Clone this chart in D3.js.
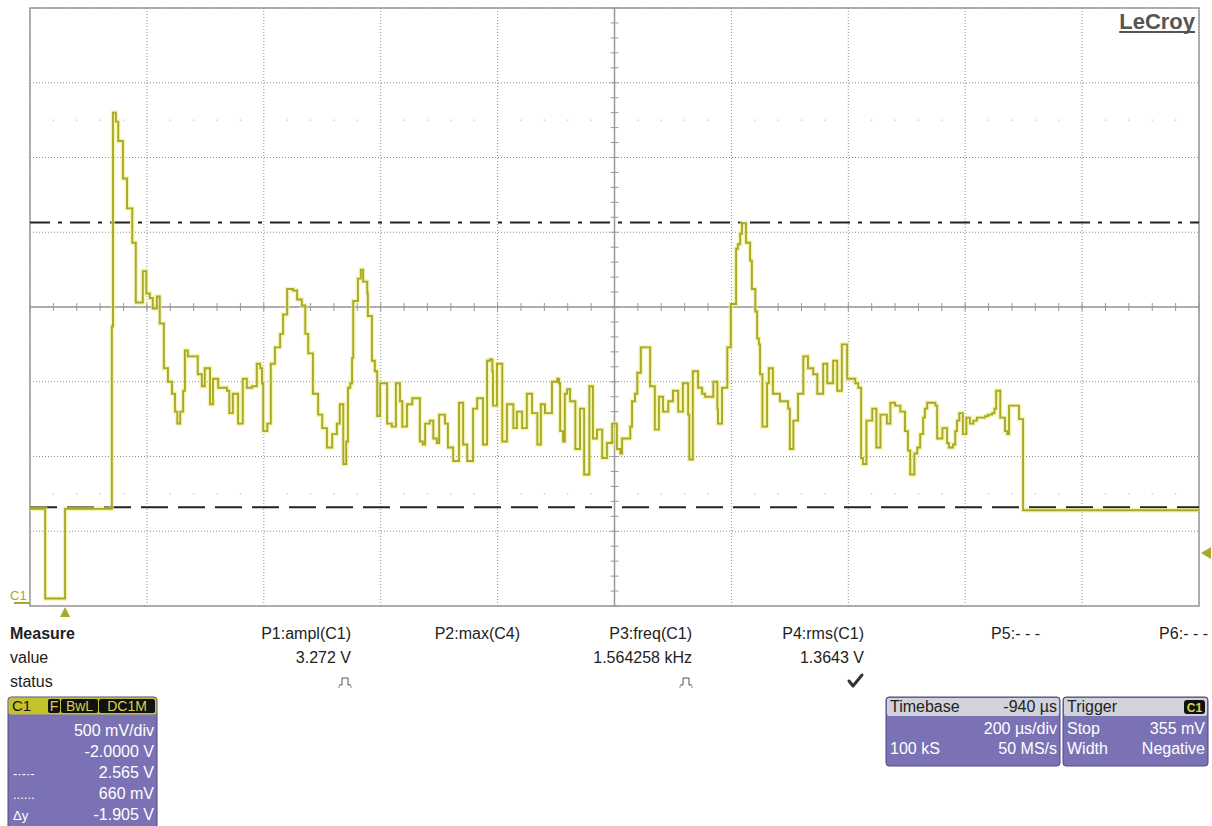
<!DOCTYPE html>
<html>
<head>
<meta charset="utf-8">
<script src="https://cdn.jsdelivr.net/npm/d3@7"></script>
<style>
  body { margin: 0; background: #fff; }
  text { font-family: "Liberation Sans", Arial, sans-serif; }
</style>
</head>
<body>
<div id="scope"></div>
<script>
// time in microseconds relative to trigger, voltage in volts (C1)
const traceT = [-60,-34,0,80,82,87,91,99,106,115,121,133,139,145,150,157,162,169,176,183,188,192,197,202,205,210,227,234,239,248,253,262,277,281,287,296,304,311,320,328,334,337,339,346,352,359,368,373,380,390,397,405,411,416,424,433,440,448,457,465,470,476,481,484,488,491,493,501,506,510,517,518,525,530,534,539,551,559,566,573,577,585,594,607,612,616,624,630,636,640,650,655,664,674,681,688,698,705,715,722,727,731,732,739,748,756,767,773,782,790,799,808,814,821,833,842,845,847,852,855,859,864,873,881,888,897,903,910,919,927,936,944,950,953,967,970,975,979,985,1001,1009,1016,1023,1032,1040,1049,1057,1066,1068,1074,1083,1090,1095,1109,1116,1117,1124,1133,1139,1148,1151,1155,1158,1165,1172,1175,1181,1184,1187,1189,1193,1201,1204,1211,1223,1237,1240,1246,1254,1263,1271,1280,1287,1297,1304,1314,1321,1329,1338,1352,1357,1362,1365,1371,1381,1388,1395,1406,1412,1420,1429,1437,1442,1446,1453,1458,1463,1468,1471,1475,1489,1492,1501,1509,1512,1519,1523,1526,1530,1536,1542,1548,1554,1560,1574,1579,1586,1590,1593,1600,1608,1612,1615,1632,1639,1940];
const traceV = [0.65,0.05,0.65,1.87,3.30,3.24,3.11,2.86,2.66,2.43,2.03,2.24,2.09,2.06,1.99,2.07,1.89,1.59,1.50,1.42,1.30,1.22,1.30,1.44,1.71,1.67,1.55,1.47,1.59,1.35,1.52,1.46,1.44,1.29,1.42,1.22,1.52,1.46,1.47,1.62,1.59,1.49,1.17,1.22,1.62,1.73,1.82,1.95,2.12,2.11,2.05,2.01,1.82,1.69,1.42,1.28,1.19,1.06,1.15,1.22,1.35,0.95,1.10,1.46,1.49,1.66,2.04,2.19,2.25,2.17,2.09,1.94,1.64,1.57,1.27,1.49,1.22,1.20,1.49,1.37,1.20,1.35,1.39,1.10,1.08,1.22,1.24,1.12,1.09,1.28,1.22,1.06,0.97,1.36,1.08,0.97,1.32,1.39,1.08,1.64,1.65,1.57,1.34,1.62,1.10,1.35,1.19,1.30,1.19,1.42,1.29,1.08,1.35,1.29,1.50,1.52,1.49,1.17,1.10,1.42,1.45,1.37,1.05,1.32,0.88,1.47,1.12,1.18,0.99,1.09,1.22,1.05,1.02,1.12,1.20,1.37,1.42,1.56,1.73,1.47,1.18,1.40,1.30,1.37,1.44,1.30,1.49,1.28,0.98,1.57,1.46,1.42,1.40,1.50,1.32,1.22,1.46,1.73,2.02,2.39,2.42,2.49,2.56,2.43,2.31,2.12,1.97,1.79,1.75,1.55,1.20,1.49,1.59,1.42,1.37,1.32,1.05,1.24,1.42,1.67,1.59,1.55,1.42,1.62,1.49,1.64,1.44,1.75,1.52,1.49,1.46,0.99,0.95,1.24,1.32,1.06,1.28,1.22,1.36,1.34,1.30,1.17,1.04,0.88,1.02,1.06,1.15,1.26,1.32,1.36,1.34,1.12,1.19,1.09,1.06,1.08,1.17,1.24,1.29,1.15,1.26,1.22,1.24,1.26,1.27,1.28,1.29,1.32,1.44,1.26,1.17,1.15,1.34,1.25,0.64,0.64];

const cursorDashDot = 2.565;   // V
const cursorDashed = 0.660;    // V
const triggerLevel = 0.355;    // V

const measureNames = ["P1:ampl(C1)", "P2:max(C4)", "P3:freq(C1)", "P4:rms(C1)", "P5:- - -", "P6:- - -"];
const measureValues = ["3.272 V", "", "1.564258 kHz", "1.3643 V", "", ""];
const measureStatus = ["pulse", "", "pulse", "check", "", ""];

const chanBadges = ["F", "BwL", "DC1M"];
const chanLeft = ["", "", "-·-·-", "......", "Δy"];
const chanRight = ["500 mV/div", "-2.0000 V", "2.565 V", "660 mV", "-1.905 V"];

const tbHead = ["Timebase", "-940 µs"];
const tbRows = [["", "200 µs/div"], ["100 kS", "50 MS/s"]];
const trHead = ["Trigger", "C1"];
const trRows = [["Stop", "355 mV"], ["Width", "Negative"]];

const W = 1212, H = 826;
const pL = 30, pR = 1199, pT = 8, pB = 606;
const traceCol = "#a9a828", purple = "#7a72b4", purpleEdge = "#4f4786";

const svg = d3.select("#scope").append("svg").attr("width", W).attr("height", H);

const x = d3.scaleLinear().domain([-60, 1940]).range([pL, pR]);
const y = d3.scaleLinear().domain([0, 4]).range([pB, pT]);

const xDiv = d3.range(-60, 1941, 200);
const yDiv = d3.range(0, 4.01, 0.5);

// dotted grid
svg.append("g").selectAll("line").data(xDiv).enter().append("line")
  .attr("x1", d => x(d)).attr("x2", d => x(d)).attr("y1", pT).attr("y2", pB)
  .attr("stroke", "#8f8f8f").attr("stroke-dasharray", "1,2");
svg.append("g").selectAll("line").data(yDiv).enter().append("line")
  .attr("x1", pL).attr("x2", pR).attr("y1", d => y(d)).attr("y2", d => y(d))
  .attr("stroke", "#8f8f8f").attr("stroke-dasharray", "1,2");

// faint sub-grid dots
const xMinor = d3.range(-60, 1941, 40);
[3.25, 0.75].forEach(v => {
  svg.append("g").selectAll("circle").data(xMinor).enter().append("circle")
    .attr("cx", d => x(d)).attr("cy", y(v)).attr("r", 0.8).attr("fill", "#cfcfcf");
});

// frame
svg.append("rect").attr("x", pL).attr("y", pT).attr("width", pR - pL).attr("height", pB - pT)
  .attr("fill", "none").attr("stroke", "#999").attr("stroke-width", 1.5);

// centre cross with minor ticks
const xc = x(940), yc = y(2);
svg.append("line").attr("x1", pL).attr("x2", pR).attr("y1", yc).attr("y2", yc).attr("stroke", "#999").attr("stroke-width", 1.5);
svg.append("line").attr("x1", xc).attr("x2", xc).attr("y1", pT).attr("y2", pB).attr("stroke", "#999").attr("stroke-width", 1.5);
svg.append("g").selectAll("line").data(xMinor).enter().append("line")
  .attr("x1", d => x(d)).attr("x2", d => x(d)).attr("y1", yc - 4).attr("y2", yc + 4).attr("stroke", "#999");
svg.append("g").selectAll("line").data(d3.range(0, 4.01, 0.1)).enter().append("line")
  .attr("x1", xc - 4).attr("x2", xc + 4).attr("y1", d => y(d)).attr("y2", d => y(d)).attr("stroke", "#999");

// cursors
svg.append("line").attr("x1", pL).attr("x2", pR).attr("y1", y(cursorDashDot)).attr("y2", y(cursorDashDot))
  .attr("stroke", "#222").attr("stroke-width", 2).attr("stroke-dasharray", "20,8,4,8");
svg.append("line").attr("x1", pL).attr("x2", pR).attr("y1", y(cursorDashed)).attr("y2", y(cursorDashed))
  .attr("stroke", "#222").attr("stroke-width", 2).attr("stroke-dasharray", "27,10");

// trace
const pts = traceT.map((t, i) => [t, traceV[i]]);
const line = d3.line().x(d => x(d[0])).y(d => y(d[1])).curve(d3.curveStepAfter);
svg.append("path").datum(pts).attr("d", line).attr("fill", "none")
  .attr("stroke", "#eeee80").attr("stroke-width", 4.5).attr("opacity", 0.6);
svg.append("path").datum(pts).attr("d", line).attr("fill", "none")
  .attr("stroke", traceCol).attr("stroke-width", 1.9);

// markers
svg.append("text").attr("x", 10).attr("y", 600).attr("font-size", 13).attr("fill", traceCol).text("C1");
svg.append("line").attr("x1", 14).attr("x2", pL).attr("y1", 603).attr("y2", 603).attr("stroke", traceCol).attr("stroke-width", 2);
const tx = x(0);
svg.append("path").attr("d", `M${tx - 5},617 L${tx + 5},617 L${tx},607 Z`).attr("fill", traceCol);
const ty = y(triggerLevel);
svg.append("path").attr("d", `M1211,${ty - 6} L1211,${ty + 6} L1201,${ty} Z`).attr("fill", traceCol);

// LeCroy logo
const logo = svg.append("text").attr("x", 1195).attr("y", 29).attr("text-anchor", "end").attr("font-size", 22)
  .attr("font-weight", "bold").attr("fill", "#555").text("LeCroy");
const lw = logo.node().getComputedTextLength();
svg.append("line").attr("x1", 1195 - lw).attr("x2", 1195).attr("y1", 32).attr("y2", 32).attr("stroke", "#555").attr("stroke-width", 2);

// measurement table
const mt = svg.append("g").attr("font-size", 16).attr("fill", "#222");
mt.append("text").attr("x", 10).attr("y", 639).attr("font-weight", "bold").text("Measure");
mt.append("text").attr("x", 10).attr("y", 663).text("value");
mt.append("text").attr("x", 10).attr("y", 687).text("status");
const colRight = [351, 520, 692, 864, 1040, 1208];
measureNames.forEach((n, i) => {
  mt.append("text").attr("x", colRight[i]).attr("y", 639).attr("text-anchor", "end").text(n);
  mt.append("text").attr("x", colRight[i]).attr("y", 663).attr("text-anchor", "end").text(measureValues[i]);
  const cx = colRight[i] - 6;
  if (measureStatus[i] === "pulse") {
    mt.append("path").attr("d", `M${cx - 6},685 h3 v-7 h6 v7 h3`).attr("fill", "none").attr("stroke", "#555").attr("stroke-width", 1);
    mt.append("circle").attr("cx", cx - 6).attr("cy", 687).attr("r", 0.8).attr("fill", "#777");
    mt.append("circle").attr("cx", cx + 6).attr("cy", 687).attr("r", 0.8).attr("fill", "#777");
  } else if (measureStatus[i] === "check") {
    mt.append("path").attr("d", `M${cx - 9},681 L${cx - 5},686 L${cx + 4},675`)
      .attr("fill", "none").attr("stroke", "#333").attr("stroke-width", 3).attr("stroke-linecap", "round").attr("stroke-linejoin", "round");
  }
});

// channel box
const cb = svg.append("g");
cb.append("rect").attr("x", 8).attr("y", 697).attr("width", 149).attr("height", 135).attr("rx", 3)
  .attr("fill", purple).attr("stroke", purpleEdge);
cb.append("rect").attr("x", 8.5).attr("y", 697.5).attr("width", 148).attr("height", 17).attr("rx", 2).attr("fill", "#c4c22c");
cb.append("text").attr("x", 12).attr("y", 711).attr("font-size", 15).attr("fill", "#111").text("C1");
const badgeX = [48, 61, 99], badgeW = [12, 37, 56];
chanBadges.forEach((b, i) => {
  cb.append("rect").attr("x", badgeX[i]).attr("y", 699).attr("width", badgeW[i]).attr("height", 14).attr("rx", 2).attr("fill", "#111");
  cb.append("text").attr("x", badgeX[i] + badgeW[i] / 2).attr("y", 711).attr("text-anchor", "middle")
    .attr("font-size", 14).attr("fill", "#d8d44a").text(b);
});
chanRight.forEach((t, i) => {
  const yy = 736 + i * 21;
  cb.append("text").attr("x", 154).attr("y", yy).attr("text-anchor", "end").attr("font-size", 16).attr("fill", "#fff").text(t);
  if (chanLeft[i]) cb.append("text").attr("x", 13).attr("y", yy).attr("font-size", 13).attr("fill", "#fff").text(chanLeft[i]);
});

// timebase and trigger boxes
function infoBox(x0, w, head, rows, badge) {
  const g = svg.append("g");
  g.append("rect").attr("x", x0).attr("y", 697).attr("width", w).attr("height", 69).attr("rx", 3)
    .attr("fill", purple).attr("stroke", purpleEdge);
  g.append("rect").attr("x", x0 + 1).attr("y", 698).attr("width", w - 2).attr("height", 18).attr("rx", 2).attr("fill", "#d2d2da");
  g.append("text").attr("x", x0 + 4).attr("y", 712).attr("font-size", 16).attr("fill", "#222").text(head[0]);
  if (badge) {
    g.append("rect").attr("x", x0 + w - 24).attr("y", 700).attr("width", 21).attr("height", 14).attr("rx", 3).attr("fill", "#111");
    g.append("text").attr("x", x0 + w - 13.5).attr("y", 712).attr("text-anchor", "middle").attr("font-size", 12)
      .attr("font-weight", "bold").attr("fill", "#d8d44a").text(head[1]);
  } else {
    g.append("text").attr("x", x0 + w - 3).attr("y", 712).attr("text-anchor", "end").attr("font-size", 16).attr("fill", "#222").text(head[1]);
  }
  rows.forEach((r, i) => {
    const yy = 734 + i * 20;
    g.append("text").attr("x", x0 + 4).attr("y", yy).attr("font-size", 16).attr("fill", "#fff").text(r[0]);
    g.append("text").attr("x", x0 + w - 3).attr("y", yy).attr("text-anchor", "end").attr("font-size", 16).attr("fill", "#fff").text(r[1]);
  });
}
infoBox(886, 174, tbHead, tbRows, false);
infoBox(1063, 145, trHead, trRows, true);
</script>
</body>
</html>
